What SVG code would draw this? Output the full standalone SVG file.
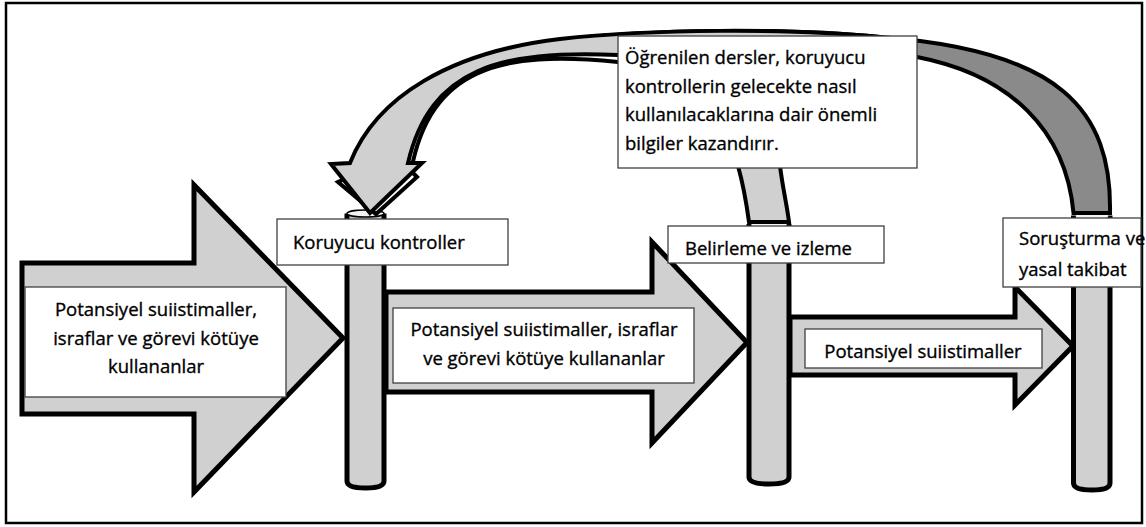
<svg xmlns="http://www.w3.org/2000/svg" width="1146" height="527" viewBox="0 0 1146 527">
  <defs>
    <linearGradient id="darkFade" gradientUnits="userSpaceOnUse" x1="620" y1="0" x2="915" y2="0">
      <stop offset="0" stop-color="#ffffff"/>
      <stop offset="1" stop-color="#8a8a8a"/>
    </linearGradient>
    <style>
      .frame { fill: #ffffff; stroke: #000; stroke-width: 2.5; }
      .flow { fill: #d0d0d0; stroke: #000; stroke-width: 5; stroke-linejoin: miter; }
      .pillar { fill: #d0d0d0; stroke: #000; stroke-width: 5; }
      .cap { fill: #f2f2f2; stroke: #000; stroke-width: 1.5; }
      .capsoft { fill: #f4f4f4; stroke: none; }
      .loop { stroke: #000; stroke-width: 4; stroke-linejoin: miter; }
      .box { fill: #ffffff; stroke: #404040; stroke-width: 1.3; }
      .lbl { font-family: "Open Sans", "Liberation Sans", sans-serif; font-size: 18.5px; fill: #000; stroke: #000; stroke-width: 0.35; }
      .mid { text-anchor: middle; }
    </style>
  </defs>

  <!-- outer frame -->
  <rect class="frame" x="6" y="3" width="1136" height="520"/>

  <!-- horizontal flow arrows -->
  <g id="flow-1">
    <polygon class="flow" points="22,263 194,263 194,185 343,338 194,492 194,414 22,414"/>
    <rect class="box" x="25" y="287" width="261" height="110"/>
    <text class="lbl mid" x="156" y="316">Potansiyel suiistimaller,</text>
    <text class="lbl mid" x="156" y="345">israflar ve görevi kötüye</text>
    <text class="lbl mid" x="156" y="373">kullananlar</text>
  </g>

  <g id="flow-2">
    <polygon class="flow" points="386,292 652,292 652,242 747,342.5 652,443 652,392 386,392"/>
    <rect class="box" x="393" y="308" width="301" height="75"/>
    <text class="lbl mid" x="544" y="336">Potansiyel suiistimaller, israflar</text>
    <text class="lbl mid" x="544" y="365">ve görevi kötüye kullananlar</text>
  </g>

  <g id="flow-3">
    <polygon class="flow" points="790,317 1015,317 1015,287 1073,346 1015,405 1015,375 790,375"/>
    <rect class="box" x="805" y="329" width="237" height="39"/>
    <text class="lbl mid" x="923" y="358">Potansiyel suiistimaller</text>
  </g>

  <!-- control pillars -->
  <g id="pillar-protective">
    <path class="pillar" d="M347,213.5 L347,481 Q347,488 365.5,488 Q384,488 384,481 L384,213.5"/>
    <ellipse class="cap" cx="365.5" cy="213.5" rx="18.5" ry="3.5"/>
  </g>
  <g id="pillar-detection">
    <path class="pillar" d="M749,224 L749,477 Q749,484 769,484 Q789,484 789,477 L789,224"/>
    <ellipse class="capsoft" cx="769" cy="224.5" rx="17.5" ry="2.5"/>
  </g>
  <g id="pillar-investigation">
    <path class="pillar" d="M1073.5,215.5 L1073.5,483 Q1073.5,490 1092,490 Q1110,490 1110,483 L1110,215.5"/>
    <ellipse class="capsoft" cx="1092" cy="216" rx="16.5" ry="2.5"/>
  </g>

  <!-- feedback loops back to the protective controls -->
  <g id="connectors">
    <path id="loop-investigation" class="loop" fill="url(#darkFade)"
      d="M1073.5,213 C1066,130 1010,75 917,57 C820,50 700,60 618,62 C500,50 430,68 411,171 L417,177 L376,214 L338,182 L353,175 C378,100 450,54 560,40 C650,29 790,28 880,37 C1060,50 1112,110 1110,213 Z"/>
    <path id="loop-detection" class="loop" fill="#d0d0d0"
      d="M749,222 C746,200 742,180 738,166 C728,110 700,62 618,55 C500,50 430,68 408,163 L422,163 L370,213 L331,164 L350,163 C376,97 450,52 560,39 C650,29 790,28 880,37 C850,80 785,120 780,166 C783,190 787,205 789,222 Z"/>
  </g>

  <!-- lessons learned note -->
  <g id="note-lessons">
    <rect class="box" x="618" y="36" width="299" height="132"/>
    <text class="lbl" x="625" y="64">Öğrenilen dersler, koruyucu</text>
    <text class="lbl" x="625" y="92.7">kontrollerin gelecekte nasıl</text>
    <text class="lbl" x="625" y="121.4">kullanılacaklarına dair önemli</text>
    <text class="lbl" x="625" y="150">bilgiler kazandırır.</text>
  </g>

  <!-- pillar labels -->
  <g id="label-protective">
    <rect class="box" x="277" y="219" width="231" height="46"/>
    <text class="lbl" x="293" y="249">Koruyucu kontroller</text>
  </g>
  <g id="label-detection">
    <rect class="box" x="668" y="226" width="216" height="37"/>
    <text class="lbl" x="685" y="255">Belirleme ve izleme</text>
  </g>
  <g id="label-investigation">
    <rect class="box" x="1003" y="218" width="138" height="69"/>
    <text class="lbl" x="1019" y="245">Soruşturma ve</text>
    <text class="lbl" x="1019" y="276">yasal takibat</text>
  </g>
</svg>
